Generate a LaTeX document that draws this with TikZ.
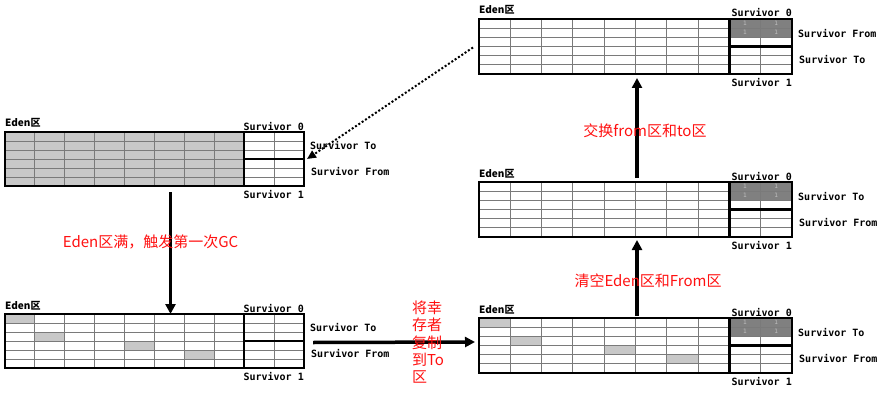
\documentclass[tikz,border=0pt]{standalone}
\usepackage{fontspec}
\setmainfont{DejaVu Sans}
\newfontfamily\cjkfont{Noto Sans CJK SC}
\newfontfamily\labelfont{DejaVu Sans Mono}
\usetikzlibrary{arrows.meta,positioning}

\definecolor{edengray}{HTML}{C8C8C8}
\definecolor{oldgray}{HTML}{808080}
\definecolor{cellline}{HTML}{7A7A7A}
\definecolor{agegray}{HTML}{BEBEBE}
\definecolor{notered}{HTML}{FF1010}

% one heap: node, column width, row height, upper/lower survivor label, fills
\newcommand{\heapcells}[6]{%
  \begin{scope}[shift={(#1.north west)},x=#2,y=-#3]
    #6
    \foreach \c in {1,...,9} \draw[cell] (\c,0) -- (\c,6);
    \foreach \r in {1,...,5} \draw[cell] (0,\r) -- (10,\r);
    \draw[wall] (0,0) rectangle (10,6) (8,0) -- (8,6) (8,3) -- (10,3);
  \end{scope}
  \node[heaptag,anchor=base west] at ([yshift=5pt]#1.north west) {\cjkfont\bfseries Eden区};
  \node[heaptag,anchor=base east] at ([yshift=2pt]#1.north east) {Survivor 0};
  \node[heaptag,anchor=north east] at ([yshift=-4pt]#1.south east) {Survivor 1};
  \node[heaptag,anchor=west] at ([shift={(6pt,13pt)}]#1.east) {#4};
  \node[heaptag,anchor=west] at ([shift={(7pt,-13pt)}]#1.east) {#5};
}
% objects left in eden after allocation
\newcommand{\livecells}{\foreach \c/\r in {0/0,1/2,4/3,6/4} \fill[edengray] (\c,\r) rectangle ++(1,1);}
% objects aged once in a survivor space
\newcommand{\agedcells}{\fill[oldgray] (8,0) rectangle (10,2);
  \foreach \c in {8,9} \foreach \r in {0,1} \node[agetag] at (\c+.5,\r+.5) {1};}

\begin{document}
\begin{tikzpicture}[x=1pt,y=-1pt,
    heap/.style={minimum width=#1,minimum height=55pt,inner sep=0pt,outer sep=0pt},
    cell/.style={draw=cellline,line width=1pt},
    wall/.style={draw=black,line width=2.5pt},
    heaptag/.style={inner sep=0pt,font=\labelfont\bfseries\fontsize{10}{12}\selectfont},
    agetag/.style={inner sep=0pt,text=agegray,font=\fontsize{6}{6}\selectfont},
    gcarrow/.style={line width=3.5pt,-{Triangle[length=10pt,width=10pt]}},
    copyarrow/.style={line width=2pt,dash pattern=on 2pt off 2pt,-{Triangle[length=9pt,width=8pt]}},
    note/.style={inner sep=0pt,text=notered,font=\cjkfont\fontsize{15}{17.3}\selectfont}]
  \useasboundingbox (0,0) rectangle (885,401);
  \node[heap=299pt,minimum height=54pt,anchor=north west] (full) at (5,132) {};
  \node[heap=299pt,minimum height=54pt,below=128pt of full] (marked) {};
  \node[heap=313pt,anchor=north west] (copied) at (479,318) {};
  \node[heap=313pt,above=81pt of copied] (cleared) {};
  \node[heap=313pt,above=108pt of cleared] (swapped) {};

  \heapcells{full}{29.9pt}{9pt}{Survivor To}{Survivor From}{\fill[edengray] (0,0) rectangle (8,6);}
  \heapcells{marked}{29.9pt}{9pt}{Survivor To}{Survivor From}{\livecells}
  \heapcells{copied}{31.3pt}{9.17pt}{Survivor To}{Survivor From}{\livecells\agedcells}
  \heapcells{cleared}{31.3pt}{9.17pt}{Survivor To}{Survivor From}{\agedcells}
  \heapcells{swapped}{31.3pt}{9.17pt}{Survivor From}{Survivor To}{\agedcells}

  \draw[gcarrow] ([xshift=16pt,yshift=-6pt]full.south) -- node[note,pos=.41,xshift=-20pt]{Eden区满，触发第一次GC} ([xshift=16pt]marked.north);
  \draw[gcarrow] ([xshift=9pt,yshift=-1.5pt]marked.east) -- node[note,pos=.71,align=left]{将幸\\存者\\复制\\到To\\区} ([xshift=-4pt,yshift=3.5pt]copied.west);
  \draw[gcarrow] ([xshift=1.5pt,yshift=2pt]copied.north) -- node[note,pos=.47,xshift=11pt]{清空Eden区和From区} ([xshift=1.5pt,yshift=-3pt]cleared.south);
  \draw[gcarrow] ([xshift=1.5pt,yshift=4pt]cleared.north) -- node[note,pos=.475,xshift=8pt]{交换from区和to区} ([xshift=1.5pt,yshift=-4pt]swapped.south);
  \draw[copyarrow] ([xshift=-6pt,yshift=-1pt]swapped.west) -- ([xshift=3pt]full.east);
\end{tikzpicture}
\end{document}
